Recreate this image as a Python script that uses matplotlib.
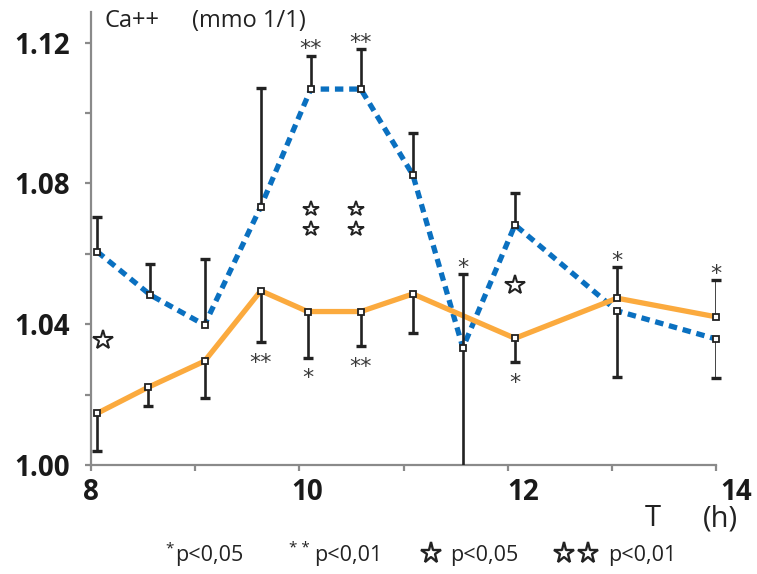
import matplotlib
matplotlib.use("Agg")
import matplotlib.pyplot as plt
from matplotlib.ticker import MultipleLocator, FixedLocator
from matplotlib.transforms import ScaledTranslation
from matplotlib.lines import Line2D

# ---------------- data ----------------
hours_blue = [8.06, 8.57, 9.09, 9.63, 10.11, 10.59, 11.09, 11.57, 12.07, 13.05, 14.0]
ca_blue = [1.0606, 1.0483, 1.0398, 1.0734, 1.1068, 1.1068, 1.0824, 1.0333, 1.0682, 1.0438, 1.0358]
blue_err_up = [0.0098, 0.0088, 0.0186, 0.0336, 0.0095, 0.0114, 0.0120, 0.0210, 0.0092, 0.0, 0.0]
blue_err_down = [0.0, 0.0, 0.0, 0.0, 0.0, 0.0, 0.0, 0.0400, 0.0, 0.0187, 0.0112]
blue_sig = ['', '', '', '', '**', '**', '', '*', '', '', '']

hours_orange = [8.06, 8.55, 9.09, 9.63, 10.08, 10.59, 11.09, 12.07, 13.05, 14.0]
ca_orange = [1.0147, 1.0221, 1.0295, 1.0495, 1.0436, 1.0436, 1.0486, 1.0360, 1.0474, 1.0421]
orange_err_down = [0.0107, 0.0052, 0.0106, 0.0145, 0.0131, 0.0098, 0.0110, 0.0068, 0.0, 0.0]
orange_err_up = [0.0, 0.0, 0.0, 0.0, 0.0, 0.0, 0.0, 0.0, 0.0088, 0.0105]
orange_sig = ['', '', '', '**', '*', '**', '', '*', '*', '*']

star_hours = [8.12, 10.11, 10.54, 12.07]
star_levels = [1.0355, 1.0700, 1.0700, 1.0511]
star_counts = [1, 2, 2, 1]

x_major = [8, 10, 12, 14]
y_major = [1.00, 1.04, 1.08, 1.12]

# ---------------- style ----------------
BLUE = '#0a70c0'
ORANGE = '#fbaa3e'
ERR = '#222222'
AXC = '#8a8a8a'
TXT = '#222222'
FONT = 'Open Sans'
x_label_nudge_px = [0, 8, 16, 20]

W, H = 757, 574
fig = plt.figure(figsize=(W / 100, H / 100), dpi=100)
ax = fig.add_axes([91 / W, 1 - 465 / H, (716 - 91) / W, (465 - 12) / H])
ax.set_xlim(8, 14)
YMIN, YMAX = 1.0, 1.1287
ax.set_ylim(YMIN, YMAX)

for s in ['top', 'right']:
    ax.spines[s].set_visible(False)
for s in ['left', 'bottom']:
    ax.spines[s].set_color(AXC)
    ax.spines[s].set_linewidth(1.6)

ax.xaxis.set_major_locator(FixedLocator(x_major))
ax.xaxis.set_minor_locator(MultipleLocator(1))
ax.yaxis.set_major_locator(FixedLocator(y_major))
ax.yaxis.set_minor_locator(MultipleLocator(0.02))
ax.set_xticklabels([])
ax.set_yticklabels([f'{v:.2f}' for v in y_major])
ax.tick_params(which='both', direction='out', length=4.5, width=1.6, color=AXC)
ax.tick_params(axis='y', which='major', pad=11)
for lab in ax.get_yticklabels():
    lab.set_fontfamily(FONT)
    lab.set_fontweight('bold')
    lab.set_fontsize(20)
    lab.set_color('#1a1a1a')

for v, nudge in zip(x_major, x_label_nudge_px):
    ax.text(v, 0, str(v), transform=ax.get_xaxis_transform() +
            ScaledTranslation(nudge / 100, -28 / 100, fig.dpi_scale_trans),
            ha='center', va='center', fontsize=20, fontweight='bold', family=FONT,
            color='#1a1a1a', clip_on=False)

# lines
ax.plot(hours_blue, ca_blue, color=BLUE, lw=3.8, linestyle=(0, (1.6, 1.1)),
        dash_capstyle='butt', zorder=2)
ax.plot(hours_orange, ca_orange, color=ORANGE, lw=3.8, solid_capstyle='round', zorder=2.5)


def draw_err(xs, ys, lo, up):
    for x, y, l, u in zip(xs, ys, lo, up):
        for end in ([y - l] if l > 0 else []) + ([y + u] if u > 0 else []):
            ax.vlines(x, min(y, end), max(y, end), color=ERR, lw=1.9, zorder=3)
            if YMIN <= end <= YMAX:
                ax.plot([x], [end], marker='_', ms=7.5, mew=2.4, color=ERR, zorder=3, clip_on=False)


draw_err(hours_blue, ca_blue, blue_err_down, blue_err_up)
draw_err(hours_orange, ca_orange, orange_err_down, orange_err_up)

ax.plot(hours_blue, ca_blue, ls='none', marker='s', ms=4.3, mfc='white', mec=ERR, mew=1.3,
        zorder=4, clip_on=False)
ax.plot(hours_orange, ca_orange, ls='none', marker='s', ms=4.3, mfc='white', mec=ERR, mew=1.3,
        zorder=4, clip_on=False)


def draw_sig(xs, ys, lo, up, sig):
    for x, y, l, u, s in zip(xs, ys, lo, up, sig):
        if not s:
            continue
        if u > 0:
            anchor, dy = (x, y + u), 4.5
        else:
            anchor, dy = (x, y - l), -15
        ax.annotate(s, anchor, xytext=(0, dy), textcoords='offset points',
                    ha='center', va='center', fontsize=16, color='#3a3a3a',
                    family='DejaVu Sans', zorder=5, annotation_clip=False)


draw_sig(hours_blue, ca_blue, blue_err_down, blue_err_up, blue_sig)
draw_sig(hours_orange, ca_orange, orange_err_down, orange_err_up, orange_sig)

# stars (between-group differences)
for x, y, n in zip(star_hours, star_levels, star_counts):
    if n == 1:
        ax.plot([x], [y], marker='*', ms=14.5, mfc='white', mec=ERR, mew=1.5, zorder=5)
    else:
        for off in (7.2, -7.2):
            ax.plot([x], [y], marker='*', ms=11.5, mfc='white', mec=ERR, mew=1.4, zorder=5,
                    transform=ax.transData + ScaledTranslation(0, off / 72, fig.dpi_scale_trans))

# texts
fig.text(105 / W, 1 - 21 / H, 'Ca++', fontsize=17, family=FONT, color=TXT, ha='left', va='center')
fig.text(192 / W, 1 - 21 / H, '(mmo 1/1)', fontsize=17, family=FONT, color=TXT, ha='left', va='center')
fig.text(645 / W, 1 - 519 / H, 'T', fontsize=21, family=FONT, color=TXT, ha='left', va='center')
fig.text(703 / W, 1 - 519 / H, '(h)', fontsize=21, family=FONT, color=TXT, ha='left', va='center')

ly = 1 - 555 / H
fs = 15.5
fig.text(170 / W, 1 - 549 / H, '*', fontsize=11, family=FONT, color=TXT, ha='center', va='center')
fig.text(175 / W, ly, 'p<0,05', fontsize=fs, family=FONT, color=TXT, ha='left', va='center')
fig.text(299 / W, 1 - 549 / H, '* *', fontsize=11, family=FONT, color=TXT, ha='center', va='center')
fig.text(314 / W, ly, 'p<0,01', fontsize=fs, family=FONT, color=TXT, ha='left', va='center')
fig.text(450 / W, ly, 'p<0,05', fontsize=fs, family=FONT, color=TXT, ha='left', va='center')
fig.text(608 / W, ly, 'p<0,01', fontsize=fs, family=FONT, color=TXT, ha='left', va='center')
for sx in (431, 564, 588):
    fig.add_artist(Line2D([sx / W], [1 - 553 / H], marker='*', ms=15.5, mfc='white', mec=ERR,
                          mew=1.7, transform=fig.transFigure))

fig.savefig('out.png', dpi=100)
